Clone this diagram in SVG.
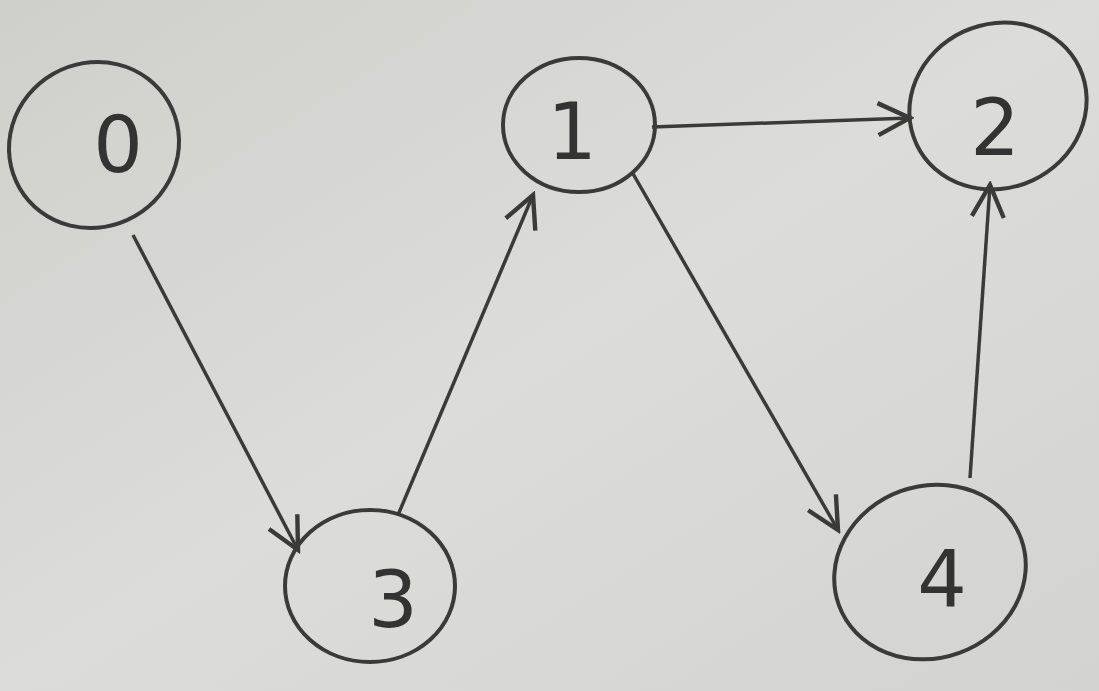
<svg xmlns="http://www.w3.org/2000/svg" width="1099" height="691" viewBox="0 0 1099 691">
<defs>
<marker id="arr" viewBox="0 0 20 20" refX="18" refY="10" markerWidth="40" markerHeight="40" markerUnits="userSpaceOnUse" orient="auto">
<path d="M2,2 L18,10 L2,18" fill="none" stroke="#3a3a3a" stroke-width="2.2"/>
</marker>
<linearGradient id="bg" x1="0" y1="0" x2="1" y2="1">
<stop offset="0" stop-color="#cfcfcc"/>
<stop offset="0.5" stop-color="#dcdcda"/>
<stop offset="1" stop-color="#d3d3d1"/>
</linearGradient>
</defs>
<style>
.n{fill:none;stroke:#3a3a3a;stroke-width:4}
.t{font-family:"DejaVu Sans",sans-serif;font-size:78px;fill:#333;text-anchor:middle;dominant-baseline:central}
.e{fill:none;stroke:#3a3a3a;stroke-width:3.5;marker-end:url(#arr)}
</style>
<rect width="1099" height="691" fill="url(#bg)"/>
<g id="edges">
<line class="e" x1="133" y1="235" x2="298" y2="550"/>
<line class="e" x1="398" y1="515" x2="533" y2="195"/>
<line class="e" x1="652" y1="127" x2="910" y2="118"/>
<line class="e" x1="632" y1="172" x2="838" y2="530"/>
<line class="e" x1="970" y1="478" x2="990" y2="185"/>
</g>
<g id="node0"><ellipse class="n" cx="94" cy="145" rx="86" ry="82" transform="rotate(-30 94 145)"/><text class="t" x="118" y="145">0</text></g>
<g id="node1"><ellipse class="n" cx="579" cy="125" rx="76" ry="67"/><text class="t" x="572" y="132">1</text></g>
<g id="node2"><ellipse class="n" cx="998" cy="106" rx="90" ry="82" transform="rotate(-25 998 106)"/><text class="t" x="995" y="128">2</text></g>
<g id="node3"><ellipse class="n" cx="370" cy="586" rx="85" ry="76"/><text class="t" x="393" y="600">3</text></g>
<g id="node4"><ellipse class="n" cx="930" cy="572" rx="97" ry="86" transform="rotate(-20 930 572)"/><text class="t" x="942" y="580">4</text></g>
</svg>
